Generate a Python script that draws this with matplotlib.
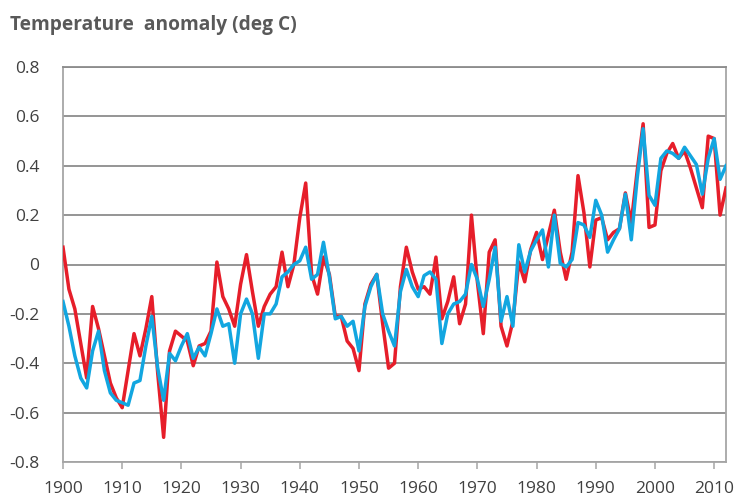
import numpy as np
import matplotlib
matplotlib.use('Agg')
import matplotlib.pyplot as plt

# yearly anomalies, 1900-2012
years = list(range(1900, 2013))

red = [0.07, -0.10, -0.18, -0.32, -0.46, -0.17, -0.26, -0.37, -0.48, -0.54,
       -0.58, -0.43, -0.28, -0.37, -0.26, -0.13, -0.44, -0.70, -0.35, -0.27,
       -0.29, -0.31, -0.41, -0.33, -0.32, -0.27, 0.01, -0.13, -0.18, -0.25,
       -0.08, 0.04, -0.11, -0.25, -0.17, -0.12, -0.09, 0.05, -0.09, 0.00,
       0.19, 0.33, -0.04, -0.12, 0.03, -0.04, -0.21, -0.21, -0.31, -0.34,
       -0.43, -0.16, -0.08, -0.04, -0.24, -0.42, -0.40, -0.09, 0.07, -0.03,
       -0.10, -0.09, -0.12, 0.03, -0.22, -0.15, -0.05, -0.24, -0.16, 0.20,
       -0.07, -0.28, 0.05, 0.10, -0.25, -0.33, -0.23, 0.01, -0.07, 0.06,
       0.13, 0.02, 0.12, 0.22, 0.05, -0.06, 0.05, 0.36, 0.21, -0.01,
       0.18, 0.19, 0.10, 0.13, 0.145, 0.29, 0.17, 0.38, 0.57, 0.15,
       0.16, 0.38, 0.45, 0.49, 0.43, 0.46, 0.39, 0.31, 0.23, 0.52,
       0.51, 0.20, 0.31]

blue = [-0.15, -0.25, -0.37, -0.46, -0.50, -0.35, -0.27, -0.43, -0.52, -0.55,
        -0.56, -0.57, -0.48, -0.47, -0.33, -0.21, -0.42, -0.55, -0.36, -0.39,
        -0.33, -0.28, -0.38, -0.335, -0.37, -0.28, -0.18, -0.25, -0.24, -0.40,
        -0.20, -0.14, -0.20, -0.38, -0.20, -0.20, -0.16, -0.05, -0.03, 0.00,
        0.015, 0.07, -0.06, -0.04, 0.09, -0.05, -0.22, -0.21, -0.25, -0.23,
        -0.35, -0.17, -0.09, -0.04, -0.20, -0.27, -0.33, -0.11, -0.02, -0.09,
        -0.13, -0.045, -0.03, -0.06, -0.32, -0.20, -0.16, -0.15, -0.12, 0.00,
        -0.06, -0.17, -0.06, 0.07, -0.23, -0.13, -0.25, 0.08, -0.03, 0.055,
        0.10, 0.14, -0.01, 0.20, 0.005, -0.01, 0.02, 0.17, 0.16, 0.11,
        0.26, 0.20, 0.05, 0.10, 0.145, 0.285, 0.10, 0.35, 0.55, 0.28,
        0.24, 0.43, 0.46, 0.45, 0.43, 0.475, 0.44, 0.405, 0.285, 0.43,
        0.51, 0.345, 0.40]

xticks = list(range(1900, 2011, 10))
yticks = [-0.8, -0.6, -0.4, -0.2, 0, 0.2, 0.4, 0.6, 0.8]
ylabels = ['-0.8', '-0.6', '-0.4', '-0.2', '0', '0.2', '0.4', '0.6', '0.8']

plt.rcParams['font.family'] = ['Open Sans', 'DejaVu Sans']

fig = plt.figure(figsize=(7.36, 4.98), dpi=100)
ax = fig.add_axes([63/736, 1 - 462/498, (726 - 63)/736, (462 - 67)/498])

ax.plot(years, red, color='#e61e2a', lw=2.5, solid_joinstyle='round', zorder=3)
ax.plot(years, blue, color='#12a6e0', lw=2.5, solid_joinstyle='round', zorder=4)

ax.set_xlim(1900, 2012)
ax.set_ylim(-0.8, 0.8)
ax.set_yticks(yticks)
ax.set_yticklabels(ylabels)
ax.set_xticks(xticks)
ax.yaxis.grid(True, color='#8c8c8c', lw=1.3)
ax.set_axisbelow(True)

for s in ax.spines.values():
    s.set_color('#a6a6a6')
    s.set_linewidth(1.3)
ax.spines['top'].set_color('#8c8c8c')

ax.tick_params(axis='y', length=0, pad=17, labelsize=12.5, labelcolor='#404040')
ax.tick_params(axis='x', length=5, width=1.1, color='#a6a6a6', pad=9,
               labelsize=12.5, labelcolor='#404040', direction='out')

fig.text(10/736, 1 - 25/498, 'Temperature  anomaly (deg C)', fontsize=13.8,
         fontweight='bold', color='#595959', va='center', ha='left')

fig.savefig('out.png', dpi=100)
